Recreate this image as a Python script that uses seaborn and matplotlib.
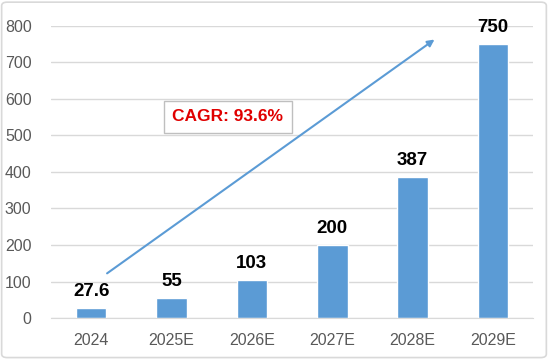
import matplotlib

matplotlib.use("Agg")

import matplotlib.pyplot as plt
import pandas as pd
import seaborn as sns
from matplotlib.patches import FancyBboxPatch

# ---- data ----
years = ["2024", "2025E", "2026E", "2027E", "2028E", "2029E"]
values = [27.6, 55, 103, 200, 387, 750]
value_labels = ["27.6", "55", "103", "200", "387", "750"]
cagr_text = "CAGR: 93.6%"

df = pd.DataFrame({"year": years, "value": values})

sns.set_style("white")
plt.rcParams["font.family"] = ["Liberation Sans", "DejaVu Sans"]

fig = plt.figure(figsize=(5.48, 3.59), dpi=100)
ax = fig.add_axes([0.093, 0.114, 0.880, 0.814])

sns.barplot(data=df, x="year", y="value", color="#5B9BD5", saturation=1,
            width=0.38, ax=ax)

ax.set_ylim(0, 800)
ax.set_yticks(range(0, 801, 100))
ax.set_xlim(-0.5, len(years) - 0.5)
ax.yaxis.grid(True, color="#D9D9D9", linewidth=1)
ax.set_axisbelow(True)
for s in ["top", "right", "left"]:
    ax.spines[s].set_visible(False)
ax.spines["bottom"].set_color("#D9D9D9")
ax.tick_params(axis="both", length=0, labelsize=11.5, colors="#595959")
ax.tick_params(axis="y", pad=14)
ax.tick_params(axis="x", pad=11)
ax.set_xlabel("")
ax.set_ylabel("")

# value labels
for i, (v, lab) in enumerate(zip(values, value_labels)):
    ax.text(i, v + 22, lab, ha="center", va="bottom", fontsize=13.5,
            fontweight="bold", color="black")

# growth arrow
ax.annotate("", xy=(4.30, 767), xytext=(0.17, 118),
            arrowprops=dict(arrowstyle="-|>", color="#5B9BD5", lw=1.5,
                            mutation_scale=10))

# CAGR box
ax.text(1.70, 551, cagr_text, ha="center", va="center", fontsize=12.5,
        fontweight="bold", color="#E00000",
        bbox=dict(boxstyle="square,pad=0.5", facecolor="white",
                  edgecolor="#BFBFBF", linewidth=1))

# outer frame
fig.patches.append(FancyBboxPatch((0.003, 0.004), 0.994, 0.99,
                                  boxstyle="round,pad=0,rounding_size=0.01",
                                  transform=fig.transFigure, fill=False,
                                  edgecolor="#D9D9D9", linewidth=1.2))

fig.savefig("out.png", dpi=100)
plt.close(fig)
